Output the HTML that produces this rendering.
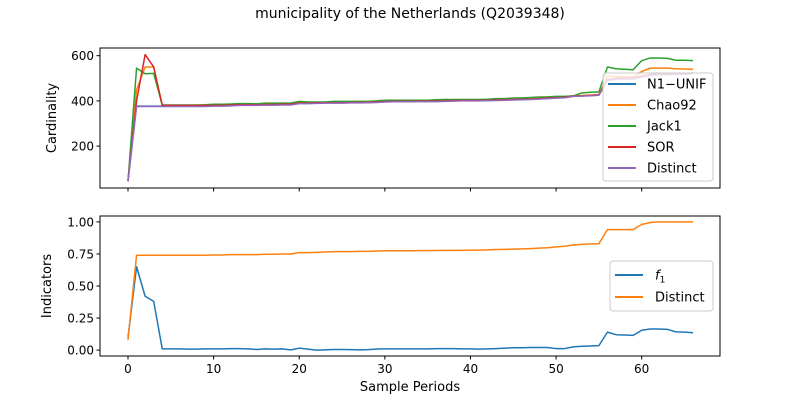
<!DOCTYPE html>
<html><head><meta charset="utf-8"><style>
body{margin:0;background:#fff;}
svg{font-family:"DejaVu Sans","Liberation Sans",sans-serif;}
</style></head><body>
<svg id="chart" width="800" height="400" viewBox="0 0 800 400" xmlns="http://www.w3.org/2000/svg"></svg>
<script>
const periods = Array.from({length:67},(_,i)=>i);
const distinctTop = [45,375,375,375,375,375,375,375,375,375,377,377,378,380,380,380,381,381,382,382,388,388,389,390,390,390,391,391,392,393,395,396,396,396,397,397,397,398,399,400,400,400,401,402,403,404,405,406,408,410,412,414,420,421,423,425,490,495,497,497,505,512,515,515,517,518,520];
const jack1 = [45,545,520,522,382,382,382,382,382,383,385,385,386,388,388,387,390,390,390,390,398,395,395,395,398,398,398,398,398,400,403,403,403,403,403,403,405,406,406,406,406,406,407,410,410,413,413,415,417,418,420,420,422,435,438,440,550,542,540,538,578,590,590,588,580,580,578];
const chao92 = [45,450,550,550,380,380,380,380,380,380,381,381,382,384,384,383,385,385,386,386,392,392,392,393,393,393,394,394,395,396,398,399,399,399,400,400,400,401,402,403,403,403,404,405,406,407,408,409,411,413,415,417,423,424,426,428,510,508,507,505,530,545,545,545,542,541,540];
const sor = [45,400,605,550,380,380,380,380,380,380,380,380,381,383,383,382,384,384,385,385,390,390,391,392,392,392,393,393,394,395,397,398,398,398,399,399,399,400,401,402,402,402,403,404,405,406,407,408,410,412,414,416,421,422,424,426,495,500,502,502,510,517,520,520,521,522,523];
const n1unif = [45,377,377,377,377,377,377,377,377,377,378,378,379,381,381,381,382,382,383,383,389,389,390,391,391,391,392,392,393,394,396,397,397,397,398,398,398,399,400,401,401,401,402,403,404,405,406,407,409,411,413,415,421,422,424,426,492,497,499,499,507,514,517,517,519,520,522];
const distinctBot = [0.08,0.74,0.74,0.74,0.74,0.74,0.74,0.74,0.74,0.74,0.742,0.742,0.745,0.745,0.745,0.745,0.748,0.748,0.75,0.75,0.76,0.76,0.762,0.765,0.768,0.768,0.768,0.77,0.77,0.772,0.775,0.775,0.775,0.775,0.776,0.776,0.777,0.778,0.778,0.778,0.78,0.78,0.782,0.785,0.786,0.788,0.79,0.792,0.795,0.798,0.805,0.81,0.82,0.825,0.828,0.83,0.94,0.94,0.94,0.94,0.98,0.995,1.0,1.0,1.0,1.0,1.0];
const f1 = [0.1,0.65,0.42,0.38,0.01,0.01,0.01,0.008,0.008,0.01,0.01,0.01,0.012,0.012,0.01,0.005,0.01,0.008,0.01,0.002,0.015,0.008,0.0,0.002,0.005,0.005,0.004,0.002,0.004,0.008,0.01,0.01,0.01,0.01,0.01,0.01,0.012,0.012,0.012,0.01,0.01,0.008,0.01,0.012,0.015,0.018,0.018,0.02,0.02,0.02,0.012,0.012,0.025,0.03,0.032,0.035,0.14,0.12,0.118,0.115,0.155,0.165,0.165,0.162,0.142,0.14,0.135];
const xTicks = [0,10,20,30,40,50,60];
const topTicks = [200,400,600];
const botTicks = [0.00,0.25,0.50,0.75,1.00];
const botTickLabels = ["0.00","0.25","0.50","0.75","1.00"];

const NS="http://www.w3.org/2000/svg";
const svg=document.getElementById('chart');
function mk(tag,attrs,parent){const e=document.createElementNS(NS,tag);for(const k in attrs)e.setAttribute(k,attrs[k]);(parent||svg).appendChild(e);return e;}
const L=100,R=720;
const xs=v=>128+v*8.5617;
const yTop=v=>188-(v-14.6)*(140/(634-14.6));
const yBot=v=>356-(v+0.046)*(140/1.092);

function axes(top,bot,name){
  const r=mk('rect',{x:L,y:top,width:R-L,height:bot-top,fill:'none',stroke:'#000','stroke-width':1});
  
  
}
function line(data,ys,color,name){
  const p=mk('polyline',{points:data.map((v,i)=>xs(periods[i])+','+ys(v)).join(' '),fill:'none',stroke:color,'stroke-width':1.5,'stroke-linejoin':'round'});
  
  
}
const t=mk('text',{x:410,y:18,'text-anchor':'middle','font-size':14});
t.textContent='municipality of the Netherlands (Q2039348)';



line(n1unif,yTop,'#1f77b4','series-n1-unif');
line(chao92,yTop,'#ff7f0e','series-chao92');
line(jack1,yTop,'#2ca02c','series-jack1');
line(sor,yTop,'#d62728','series-sor');
line(distinctTop,yTop,'#9467bd','series-distinct-top');
axes(48,188,'top-axes');
line(f1,yBot,'#1f77b4','series-f1');
line(distinctBot,yBot,'#ff7f0e','series-distinct-bottom');
axes(216,356,'bottom-axes');

xTicks.forEach(v=>{
  const x=xs(v);
  mk('line',{x1:x,x2:x,y1:188,y2:191.5,stroke:'#000'});
  mk('line',{x1:x,x2:x,y1:356,y2:359.5,stroke:'#000'});
  const tx=mk('text',{x:x,y:373,'text-anchor':'middle','font-size':12});
  tx.textContent=v;
  
  
});
topTicks.forEach(v=>{
  const y=yTop(v);
  mk('line',{x1:L-3.5,x2:L,y1:y,y2:y,stroke:'#000'});
  const tx=mk('text',{x:L-6,y:y+4.5,'text-anchor':'end','font-size':12});
  tx.textContent=v;
  
  
});
botTicks.forEach((v,i)=>{
  const y=yBot(v);
  mk('line',{x1:L-3.5,x2:L,y1:y,y2:y,stroke:'#000'});
  const tx=mk('text',{x:L-6,y:y+4.5,'text-anchor':'end','font-size':12});
  tx.textContent=botTickLabels[i];
  
  
});
let a=mk('text',{x:0,y:0,'text-anchor':'middle','font-size':13,transform:'translate(56,118) rotate(-90)'});
a.textContent='Cardinality';


a=mk('text',{x:0,y:0,'text-anchor':'middle','font-size':13,transform:'translate(51,286) rotate(-90)'});
a.textContent='Indicators';


a=mk('text',{x:410,y:391,'text-anchor':'middle','font-size':13});
a.textContent='Sample Periods';



function legend(x,y,w,h,items,lx,tx,y0,dy,name){
  const g=mk('g',{});
  
  
  mk('rect',{x:x,y:y,width:w,height:h,rx:3,fill:'#fff','fill-opacity':0.8,stroke:'#ccc'},g);
  items.forEach((it,i)=>{
    const yy=y0+i*dy;
    mk('line',{x1:lx,x2:lx+28,y1:yy,y2:yy,stroke:it[1],'stroke-width':2},g);
    const te=mk('text',{x:tx,y:yy+4.5,'font-size':13},g);
    te.innerHTML=it[0];
    
    
  });
}
legend(603,73,110,108,[['N1−UNIF','#1f77b4'],['Chao92','#ff7f0e'],['Jack1','#2ca02c'],['SOR','#d62728'],['Distinct','#9467bd']],608,647,84,21,'top-legend');
legend(610,261,103,50,[['<tspan font-style="italic">f</tspan><tspan font-size="9" dy="3">1</tspan>','#1f77b4'],['Distinct','#ff7f0e']],615,655,275,22,'bottom-legend');
</script>
</body></html>
